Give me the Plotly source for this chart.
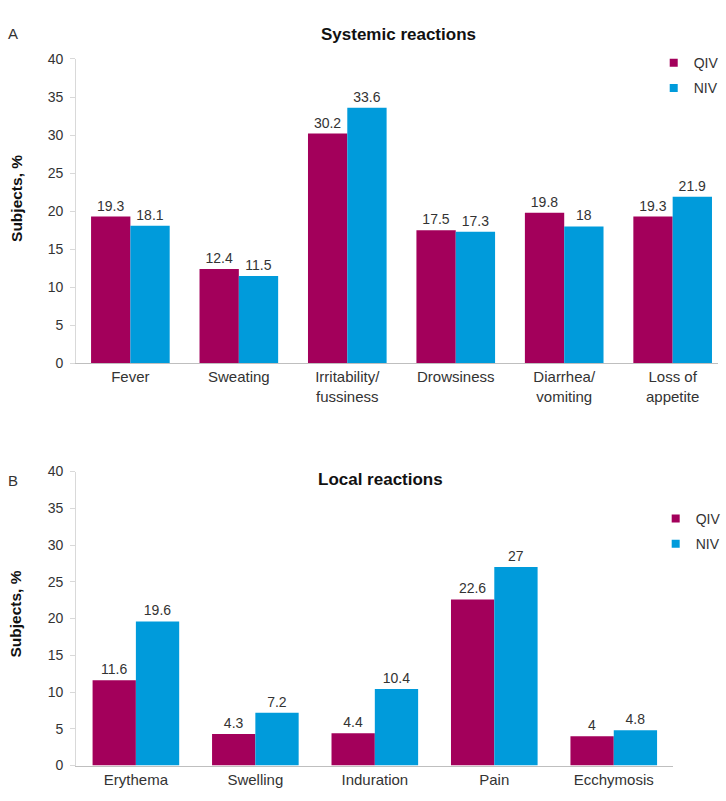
import plotly.graph_objects as go

# Systemic reactions (panel A)
systemic_labels = ["Fever", "Sweating", "Irritability/<br>fussiness", "Drowsiness",
                   "Diarrhea/<br>vomiting", "Loss of<br>appetite"]
systemic_qiv = [19.3, 12.4, 30.2, 17.5, 19.8, 19.3]
systemic_niv = [18.1, 11.5, 33.6, 17.3, 18, 21.9]

# Local reactions (panel B)
local_labels = ["Erythema", "Swelling", "Induration", "Pain", "Ecchymosis"]
local_qiv = [11.6, 4.3, 4.4, 22.6, 4]
local_niv = [19.6, 7.2, 10.4, 27, 4.8]

y_ticks = [0, 5, 10, 15, 20, 25, 30, 35, 40]

QIV_COLOR = "#A3005B"
NIV_COLOR = "#009BDB"
FONT = "Liberation Sans, Arial, sans-serif"
TEXT_COLOR = "#333333"

W, H = 726, 801


def px_x(x):
    return x / W


def px_y(y):
    return 1 - y / H


def fmt(v):
    return f"{v:g}"


fig = go.Figure()


def add_pair(labels, qiv, niv, xa, ya, legend):
    for name, vals, color in (("QIV", qiv, QIV_COLOR), ("NIV", niv, NIV_COLOR)):
        fig.add_trace(go.Bar(
            x=labels, y=vals, name=name, xaxis=xa, yaxis=ya,
            marker=dict(color=color, line=dict(width=0)),
            text=[fmt(v) for v in vals], textposition="outside",
            textfont=dict(family=FONT, size=14, color=TEXT_COLOR),
            cliponaxis=False, showlegend=False, hoverinfo="skip",
        ))
        # legend entry with a small square swatch
        fig.add_trace(go.Scatter(
            x=[None], y=[None], mode="markers", name=name,
            xaxis=xa, yaxis=ya, legend=legend, legendgroup=legend + name,
            marker=dict(symbol="square", size=8, color=color),
        ))


add_pair(systemic_labels, systemic_qiv, systemic_niv, "x", "y", "legend")
add_pair(local_labels, local_qiv, local_niv, "x2", "y2", "legend2")

yaxis_style = dict(
    range=[0, 40], tickvals=y_ticks, showgrid=False, zeroline=False,
    showline=True, linecolor="#D9D9D9", linewidth=1,
    ticks="outside", ticklen=5, tickcolor="#D9D9D9", ticklabelstandoff=4,
    tickfont=dict(family=FONT, size=14, color=TEXT_COLOR),
    fixedrange=True,
)
xaxis_style = dict(
    showgrid=False, zeroline=False, showline=True, linecolor="#BFBFBF",
    linewidth=1, ticks="", tickfont=dict(family=FONT, size=15, color=TEXT_COLOR),
    type="category",
)

legend_style = dict(
    font=dict(family=FONT, size=14, color=TEXT_COLOR),
    bgcolor="rgba(0,0,0,0)", tracegroupgap=4, itemwidth=30,
    xanchor="left", yanchor="top", orientation="v",
)

annotations = [
    dict(text="A", x=px_x(13), y=px_y(26), showarrow=False,
         font=dict(family=FONT, size=15, color=TEXT_COLOR)),
    dict(text="B", x=px_x(13), y=px_y(482), showarrow=False,
         font=dict(family=FONT, size=15, color=TEXT_COLOR)),
    dict(text="<b>Systemic reactions</b>", x=px_x(403), y=px_y(27), showarrow=False,
         font=dict(family=FONT, size=17, color="#111111")),
    dict(text="<b>Local reactions</b>", x=px_x(385), y=px_y(481), showarrow=False,
         font=dict(family=FONT, size=17, color="#111111")),
    dict(text="<b>Subjects, %</b>", x=px_x(16), y=px_y(194), showarrow=False,
         textangle=-90, font=dict(family=FONT, size=15.5, color="#111111")),
    dict(text="<b>Subjects, %</b>", x=px_x(16), y=px_y(618), showarrow=False,
         textangle=-90, font=dict(family=FONT, size=15.5, color="#111111")),
]
for a in annotations:
    a.update(xref="paper", yref="paper", xanchor="center", yanchor="middle")

fig.update_layout(
    width=W, height=H, margin=dict(l=0, r=0, t=0, b=0),
    paper_bgcolor="white", plot_bgcolor="white",
    bargap=0.275, bargroupgap=0, barmode="group",
    font=dict(family=FONT, color=TEXT_COLOR),
    xaxis=dict(domain=[px_x(77), 1.0], anchor="y",
               range=[-0.5, 5.418], **xaxis_style),
    yaxis=dict(domain=[px_y(362.7), px_y(52)], anchor="x", **yaxis_style),
    xaxis2=dict(domain=[px_x(77), px_x(681)], anchor="y2",
                range=[-0.5, 4.5], **xaxis_style),
    yaxis2=dict(domain=[px_y(773), px_y(473)], anchor="x2", **yaxis_style),
    legend=dict(x=px_x(661), y=px_y(40), **legend_style),
    legend2=dict(x=px_x(663), y=px_y(505), **legend_style),
    annotations=annotations,
)

fig.write_html("out.html")
